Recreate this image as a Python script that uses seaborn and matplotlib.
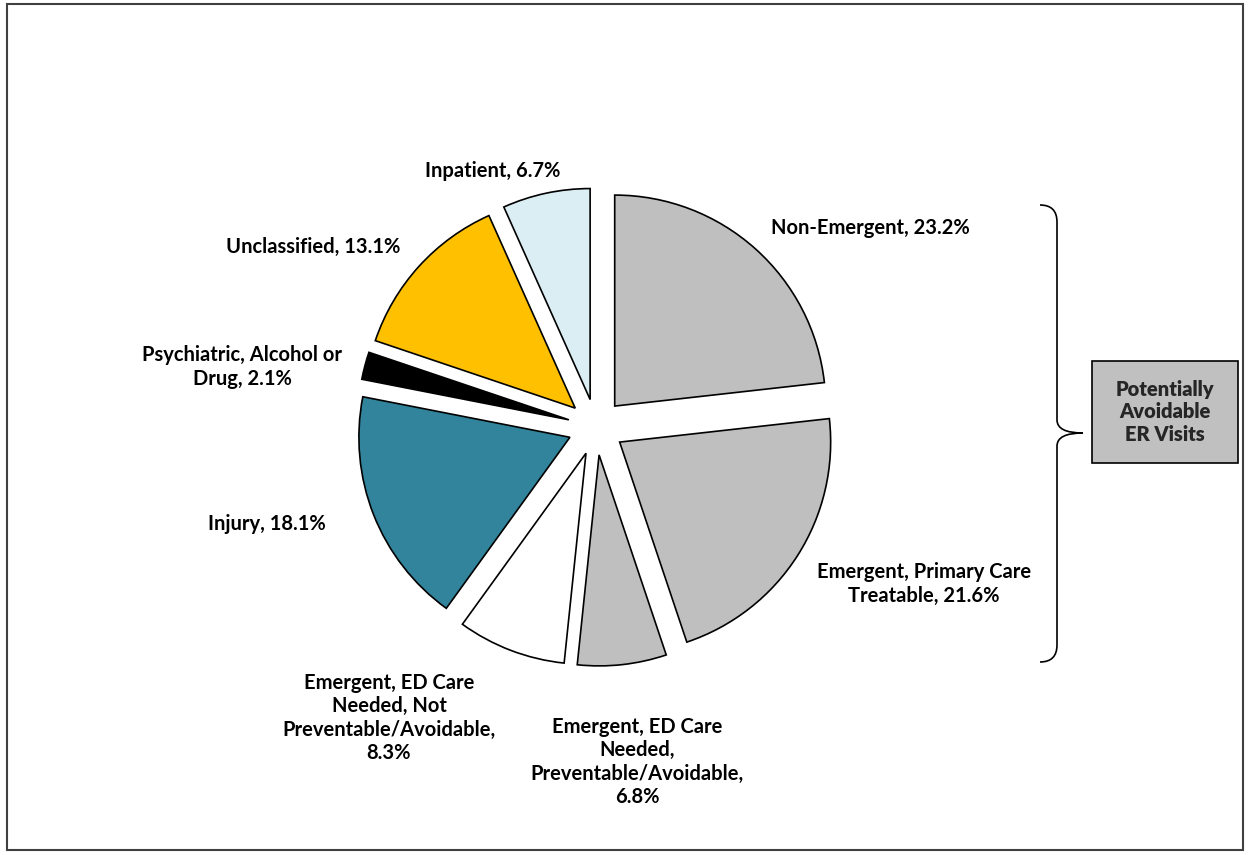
import matplotlib
matplotlib.use("Agg")
import matplotlib.pyplot as plt
import seaborn as sns
from matplotlib.patches import Rectangle, PathPatch
from matplotlib.path import Path

# ER visit classification shares (%)
categories = [
    "Non-Emergent",
    "Emergent, Primary Care\nTreatable",
    "Emergent, ED Care\nNeeded,\nPreventable/Avoidable",
    "Emergent, ED Care\nNeeded, Not\nPreventable/Avoidable",
    "Injury",
    "Psychiatric, Alcohol or\nDrug",
    "Unclassified",
    "Inpatient",
]
shares = [23.2, 21.6, 6.8, 8.3, 18.1, 2.1, 13.1, 6.7]
separators = [", ", ", ", ",\n", ",\n", ", ", ", ", ", ", ", "]
colors = ["#BFBFBF", "#BFBFBF", "#BFBFBF", "#FFFFFF",
          "#31849B", "#000000", "#FFC000", "#DAEEF3"]
bracket_label = "Potentially\nAvoidable\nER Visits"

sns.set_theme(style="white")
plt.rcParams["font.family"] = ["Lato", "DejaVu Sans"]

W, H = 1249, 855
fig = plt.figure(figsize=(W / 100, H / 100), dpi=100)
ax = fig.add_axes([0, 0, 1, 1])

def py(y):
    # pixel row (from top) to axes y
    return H - y

radius = 211
center = (596, py(427))
# matplotlib applies explode in data units, so scale it by the radius
explode = [0.133 * radius] * len(shares)
wedges, _ = ax.pie(
    shares, colors=colors, startangle=90, counterclock=False,
    explode=explode, radius=radius, center=center,
    wedgeprops=dict(edgecolor="black", linewidth=1.2),
    frame=True,
)
ax.set_xlim(0, W)
ax.set_ylim(0, H)
ax.set_aspect("equal")
ax.axis("off")

label_pos = [
    (870, 228), (924, 584), (637, 762), (389, 718),
    (267, 524), (242, 367), (313, 247), (493, 171),
]
fs = 14.5
for name, val, sep, (x, y) in zip(categories, shares, separators, label_pos):
    ax.text(x, py(y), f"{name}{sep}{val}%", ha="center", va="center",
            fontsize=fs, fontweight="bold", color="black", linespacing=1.2)

# curly brace grouping the avoidable categories
verts = [
    (1040, py(205)), (1057, py(205)), (1057, py(222)),
    (1057, py(420)),
    (1057, py(433)), (1083, py(433)),
    (1057, py(433)), (1057, py(446)),
    (1057, py(645)),
    (1057, py(662)), (1040, py(662)),
]
codes = [Path.MOVETO, Path.CURVE3, Path.CURVE3, Path.LINETO,
         Path.CURVE3, Path.CURVE3, Path.CURVE3, Path.CURVE3,
         Path.LINETO, Path.CURVE3, Path.CURVE3]
ax.add_patch(PathPatch(Path(verts, codes), facecolor="none",
                       edgecolor="black", linewidth=1.2))

ax.add_patch(Rectangle((1092, py(463)), 146, 102, facecolor="#C0C0C0",
                       edgecolor="black", linewidth=1.2))
ax.text(1165, py(412), bracket_label, ha="center", va="center",
        fontsize=fs, fontweight="heavy", linespacing=1.2)

# outer frame
ax.add_patch(Rectangle((7, py(850)), 1236, 846, facecolor="none",
                       edgecolor="#404040", linewidth=1.5))

fig.savefig("out.png", dpi=100)
